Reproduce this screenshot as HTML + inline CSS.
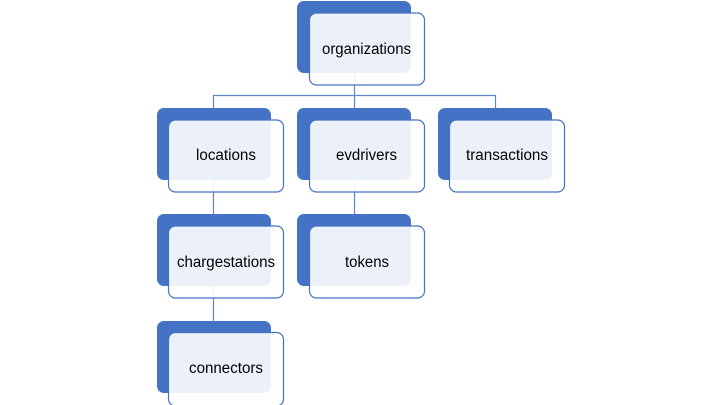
<!DOCTYPE html>
<html>
<head>
<meta charset="utf-8">
<style>
html,body{margin:0;padding:0;background:#fff;width:720px;height:405px;overflow:hidden}
svg{display:block}
text{font-family:"Liberation Sans",sans-serif;font-size:15.5px;fill:#000}
.b{fill:#4472C4}
.o{fill:#fff;fill-opacity:.9;stroke:#4472C4;stroke-width:1.2}
.l{stroke:#4472C4;stroke-opacity:.85;stroke-width:1.2;fill:none}
</style>
</head>
<body>
<svg width="720" height="405" viewBox="0 0 720 405" xmlns="http://www.w3.org/2000/svg">
<path class="l" d="M354.5 73V108M213.5 108V95.5H495.5V108M213.5 180V214M354.5 180V214M213.5 286V321"/>

<rect class="b" x="297" y="1" width="114" height="72" rx="7"/>
<rect class="o" x="309.5" y="13" width="115" height="72" rx="7"/>
<text x="322" y="54" textLength="89" lengthAdjust="spacingAndGlyphs">organizations</text>

<rect class="b" x="157" y="108" width="114" height="72" rx="7"/>
<rect class="o" x="168.5" y="120" width="115" height="72" rx="7"/>
<text x="196" y="160" textLength="60" lengthAdjust="spacingAndGlyphs">locations</text>

<rect class="b" x="297" y="108" width="114" height="72" rx="7"/>
<rect class="o" x="309.5" y="120" width="115" height="72" rx="7"/>
<text x="336" y="160" textLength="61" lengthAdjust="spacingAndGlyphs">evdrivers</text>

<rect class="b" x="438" y="108" width="114" height="72" rx="7"/>
<rect class="o" x="449.5" y="120" width="115" height="72" rx="7"/>
<text x="466" y="160" textLength="82" lengthAdjust="spacingAndGlyphs">transactions</text>

<rect class="b" x="157" y="214" width="114" height="72" rx="7"/>
<rect class="o" x="168.5" y="226" width="115" height="72" rx="7"/>
<text x="177" y="267" textLength="98" lengthAdjust="spacingAndGlyphs">chargestations</text>

<rect class="b" x="297" y="214" width="114" height="72" rx="7"/>
<rect class="o" x="309.5" y="226" width="115" height="72" rx="7"/>
<text x="345" y="267" textLength="44" lengthAdjust="spacingAndGlyphs">tokens</text>

<rect class="b" x="157" y="321" width="114" height="72" rx="7"/>
<rect class="o" x="168.5" y="332.5" width="115" height="73.5" rx="7"/>
<text x="189" y="373" textLength="74" lengthAdjust="spacingAndGlyphs">connectors</text>
</svg>
</body>
</html>
